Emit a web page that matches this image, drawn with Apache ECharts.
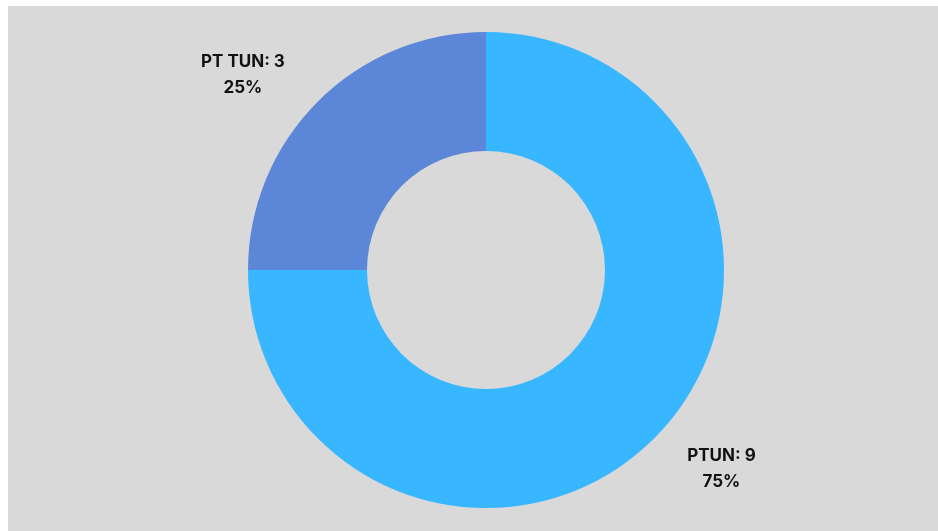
<!DOCTYPE html>
<html>
<head>
<meta charset="utf-8">
<script src="https://cdn.jsdelivr.net/npm/echarts@6/dist/echarts.min.js"></script>
<style>
  html, body { margin: 0; padding: 0; background: #ffffff; }
  #chart { position: absolute; left: 8px; top: 6px; width: 930px; height: 525px; background: #d9d9d9; }
</style>
</head>
<body>
<div id="chart"></div>
<script>
const categories = ['PTUN', 'PT TUN'];
const values = [9, 3];
const colors = ['#38b6ff', '#5c87d8'];

const chart = echarts.init(document.getElementById('chart'), null, { renderer: 'canvas' });
chart.setOption({
  backgroundColor: '#d9d9d9',
  animation: false,
  series: [{
    type: 'pie',
    center: [478, 264],
    radius: [119, 238],
    startAngle: 90,
    clockwise: true,
    silent: true,
    data: categories.map((c, i) => ({
      name: c,
      value: values[i],
      itemStyle: { color: colors[i] },
      label: i === 0 ? { padding: [8, 0, 0, 0] } : { padding: [1, 0, 0, 0] }
    })),
    label: {
      show: true,
      position: 'outside',
      distanceToLabelLine: 5,
      formatter: '{a|{b}: {c}}\n{a|{d}%}',
      rich: {
        a: {
          fontFamily: 'Inter, "Open Sans", sans-serif',
          fontWeight: 'bold',
          fontSize: 17,
          lineHeight: 26,
          color: '#111111',
          align: 'center'
        }
      }
    },
    labelLine: { show: false, length: 38, length2: 1 }
  }]
});
</script>
</body>
</html>
